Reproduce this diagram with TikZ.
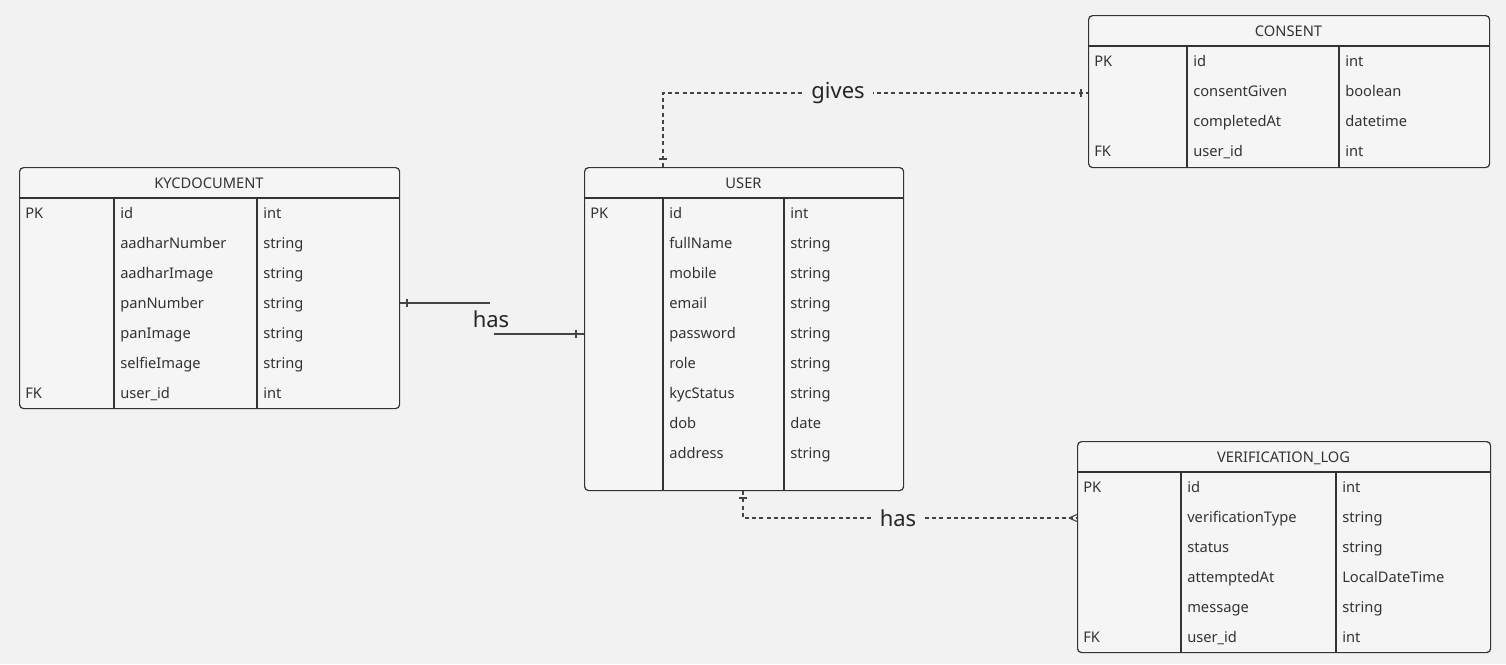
\documentclass[tikz,border=0pt]{standalone}
\usepackage{fontspec}
\setmainfont{Noto Sans}
\definecolor{bg}{HTML}{F2F2F2}
\definecolor{cellbg}{HTML}{F5F5F5}
\definecolor{ink}{HTML}{333333}
\definecolor{conn}{HTML}{444444}
\tikzset{
  tbl/.style={draw=ink, line width=0.9pt, fill=cellbg, rounded corners=3pt, inner sep=0pt},
  grid/.style={draw=ink, line width=0.9pt},
  cell/.style={anchor=west, inner sep=0pt, text height=8pt, text depth=2.5pt, font=\fontsize{11pt}{13pt}\selectfont, text=ink},
  title/.style={inner sep=0pt, text height=8pt, text depth=2.5pt, font=\fontsize{11pt}{13pt}\selectfont, text=ink},
  rel/.style={draw=conn, line width=0.8pt},
  reldash/.style={rel, dash pattern=on 3pt off 2.4pt},
  lbl/.style={fill=bg, inner xsep=6pt, inner ysep=1pt, font=\fontsize{16.5pt}{19pt}\selectfont, text=black!85},
  tick/.style={draw=conn, line width=0.8pt}
}
% #1 name, #2 x, #3 y, #4 w, #5 h, #6 col1 offset, #7 col2 offset, #8 title, #9 rows
\newcommand\ertable[9]{%
  \node[tbl, anchor=north west, minimum width=#4*0.75pt, minimum height=#5*0.75pt] (#1) at (#2,#3) {};
  \node[title] (#1-title) at (#2+#4/2,#3+17.5) {#8};
  \draw[grid] (#2,#3+31) -- (#2+#4,#3+31);
  \draw[grid] (#2+#6,#3+31) -- (#2+#6,#3+#5);
  \draw[grid] (#2+#7,#3+31) -- (#2+#7,#3+#5);
  \foreach \k/\n/\t [count=\i] in {#9} {
    \node[cell] (#1-k\i) at (#2+6,#3+31+17+30*\i-30) {\k};
    \node[cell] (#1-n\i) at (#2+#6+6,#3+31+17+30*\i-30) {\n};
    \node[cell] (#1-t\i) at (#2+#7+6,#3+31+17+30*\i-30) {\t};
  }%
}
\begin{document}
\begin{tikzpicture}[x=0.75pt, y=-0.75pt]
\fill[bg] (0,0) rectangle (1506,664);
\useasboundingbox (0,0) rectangle (1506,664);

\ertable{kyc}{19}{167}{380}{241}{95}{238}{KYCDOCUMENT}{PK/id/int, {}/aadharNumber/string, {}/aadharImage/string, {}/panNumber/string, {}/panImage/string, {}/selfieImage/string, FK/user\_id/int}
\ertable{user}{584}{167}{319}{323}{79}{200}{USER}{PK/id/int, {}/fullName/string, {}/mobile/string, {}/email/string, {}/password/string, {}/role/string, {}/kycStatus/string, {}/dob/date, {}/address/string}
\ertable{consent}{1088}{15}{401}{152}{99}{251}{CONSENT}{PK/id/int, {}/consentGiven/boolean, {}/completedAt/datetime, FK/user\_id/int}
\ertable{vlog}{1077}{441}{413}{211}{104}{259}{VERIFICATION\_LOG}{PK/id/int, {}/verificationType/string, {}/status/string, {}/attemptedAt/LocalDateTime, {}/message/string, FK/user\_id/int}

% KYCDOCUMENT -- USER (has)
\coordinate (k1) at (490,303);
\coordinate (k2) at (494,334);
\draw[rel] (kyc.east |- k1) -- (k1);
\draw[rel] (k2) -- (user.west |- k2);
\node[lbl, fill=none] (has1) at (491,319) {has};
\draw[tick] (407,299) -- (407,307);
\draw[tick] (576,330) -- (576,338);

% USER -- CONSENT (gives)
\coordinate (g1) at (663,93);
\draw[reldash] (user.north -| g1) -- (g1) -- (consent.west |- g1)
  node[lbl, pos=0.412] (gives) {gives};
\draw[tick] (659,159) -- (667,159);
\draw[tick] (1081,89) -- (1081,97);

% USER -- VERIFICATION_LOG (has)
\coordinate (h1) at (743,518);
\draw[reldash] (user.south -| h1) -- (h1) -- (vlog.west |- h1)
  node[lbl, pos=0.464] (has2) {has};
\draw[tick] (739,498) -- (747,498);
\draw[tick] (1069,518) -- (1077,514.5);
\draw[tick] (1069,518) -- (1077,521.5);
\end{tikzpicture}
\end{document}
